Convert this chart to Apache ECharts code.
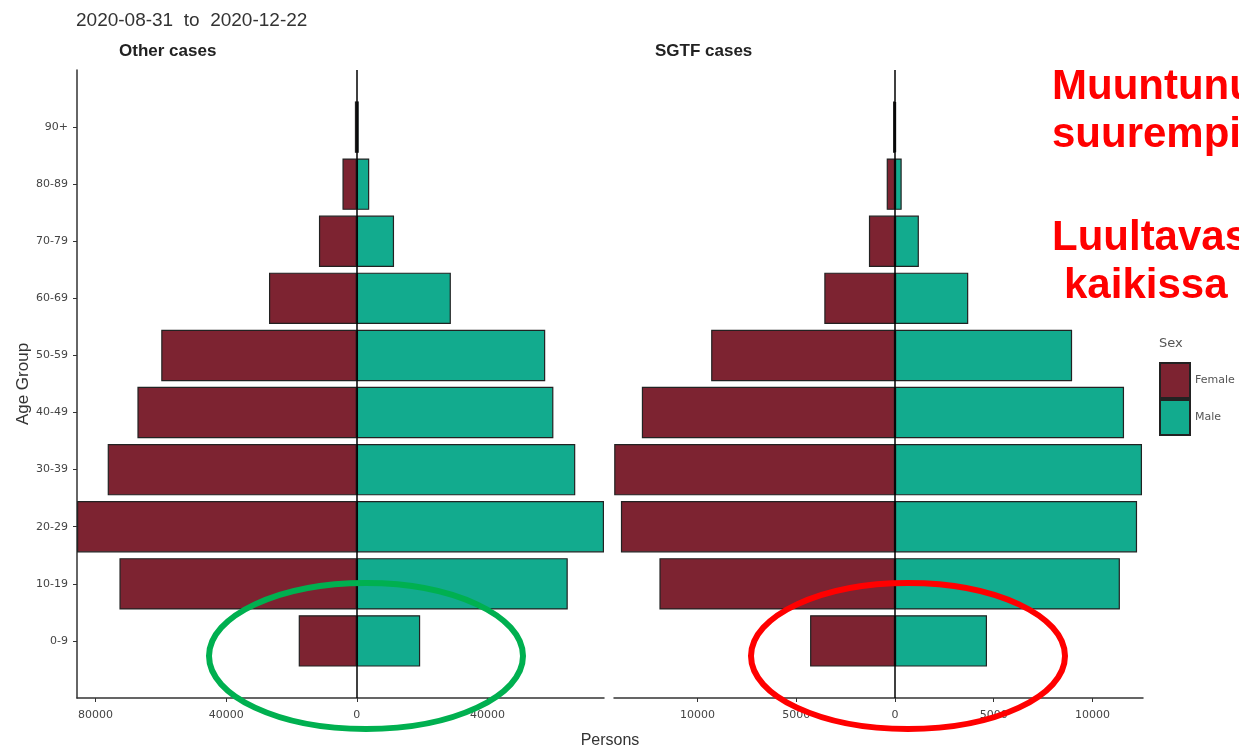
<!DOCTYPE html>
<html>
<head>
<meta charset="utf-8">
<script src="https://cdn.jsdelivr.net/npm/echarts@6/dist/echarts.min.js"></script>
<style>
  html, body { margin: 0; padding: 0; background: #fff; }
  #main { width: 1239px; height: 750px; }
</style>
</head>
<body>
<div id="main"></div>
<script>
var chartDom = document.getElementById('main');
var myChart = echarts.init(chartDom);
var option;

// age groups, bottom to top
var ageGroups = ['0-9', '10-19', '20-29', '30-39', '40-49', '50-59', '60-69', '70-79', '80-89', '90+'];

// persons per group
var otherFemale = [17800, 72700, 85700, 76300, 67200, 59900, 26900, 11600, 4400, 600];
var otherMale = [19400, 64600, 75700, 66900, 60200, 57700, 28800, 11400, 3800, 600];
var sgtfFemale = [4300, 11930, 13880, 14220, 12820, 9310, 3580, 1320, 420, 100];
var sgtfMale = [4660, 11390, 12260, 12510, 11600, 8970, 3710, 1210, 340, 60];

var otherTicks = [-80000, -40000, 0, 40000];
var sgtfTicks = [-10000, -5000, 0, 5000, 10000];

var FEMALE = '#7D2331';
var MALE = '#12AB8E';
var FONT = 'Liberation Sans, Arial, sans-serif';
var TICKFONT = 'DejaVu Sans, sans-serif';

// one empty slot above and below, like ggplot's discrete expansion
var axisCats = [' '].concat(ageGroups, ['  ']);
function pad(arr, sign) {
  return [null].concat(arr.map(function (v) { return sign * v; }), [null]);
}
function innerTick(i) {
  return i > 0 && i < axisCats.length - 1;
}

var barStyle = function (c) {
  return { color: c, borderColor: '#222', borderWidth: 1.2 };
};
var zeroLine = {
  silent: true,
  symbol: ['none', 'none'],
  label: { show: false },
  lineStyle: { color: '#000', width: 1.5, type: 'solid' },
  data: [{ xAxis: 0 }]
};

option = {
  animation: false,
  backgroundColor: '#fff',
  title: [
    {
      text: '2020-08-31  to  2020-12-22', left: 76, top: 11, padding: 0,
      textStyle: { fontFamily: FONT, fontSize: 19, fontWeight: 'normal', color: '#333' }
    },
    {
      text: 'Other cases', left: 119, top: 43, padding: 0,
      textStyle: { fontFamily: FONT, fontSize: 17, fontWeight: 'bold', color: '#222' }
    },
    {
      text: 'SGTF cases', left: 655, top: 43, padding: 0,
      textStyle: { fontFamily: FONT, fontSize: 17, fontWeight: 'bold', color: '#222' }
    },
    {
      text: 'Sex', left: 1159, top: 337, padding: 0,
      textStyle: { fontFamily: TICKFONT, fontSize: 13, fontWeight: 'normal', color: '#555' }
    }
  ],
  legend: {
    orient: 'vertical',
    left: 1159,
    top: 362,
    padding: 0,
    itemGap: 0,
    itemWidth: 30,
    itemHeight: 35,
    icon: 'rect',
    data: ['Female', 'Male'],
    textStyle: { fontFamily: TICKFONT, fontSize: 11, color: '#555' }
  },
  grid: [
    { left: 77, top: 70, width: 527, height: 628 },
    { left: 614, top: 70, width: 529, height: 628 }
  ],
  xAxis: [
    {
      type: 'value', gridIndex: 0, min: -85700, max: 75700,
      splitLine: { show: false },
      axisLine: { show: true, lineStyle: { color: '#333', width: 1.5 } },
      axisTick: { show: true, length: 4, customValues: otherTicks, lineStyle: { color: '#333' } },
      axisLabel: {
        customValues: otherTicks, margin: 12,
        fontFamily: TICKFONT, fontSize: 11, color: '#444',
        formatter: function (v) { return String(Math.abs(v)); }
      }
    },
    {
      type: 'value', gridIndex: 1, min: -14230, max: 12560,
      splitLine: { show: false },
      axisLine: { show: true, lineStyle: { color: '#333', width: 1.5 } },
      axisTick: { show: true, length: 4, customValues: sgtfTicks, lineStyle: { color: '#333' } },
      axisLabel: {
        customValues: sgtfTicks, margin: 12,
        fontFamily: TICKFONT, fontSize: 11, color: '#444',
        formatter: function (v) { return String(Math.abs(v)); }
      }
    }
  ],
  yAxis: [
    {
      type: 'category', gridIndex: 0, data: axisCats, boundaryGap: false,
      name: 'Age Group', nameLocation: 'middle', nameGap: 44,
      nameTextStyle: { fontFamily: FONT, fontSize: 17, color: '#333' },
      axisLine: { show: true, onZero: false, lineStyle: { color: '#333', width: 1.5 } },
      axisTick: { show: true, length: 4, interval: innerTick, lineStyle: { color: '#333' } },
      axisLabel: { interval: 0, margin: 9, fontFamily: TICKFONT, fontSize: 11, color: '#444' },
      splitLine: { show: false }
    },
    {
      type: 'category', gridIndex: 1, data: axisCats, boundaryGap: false,
      axisLine: { show: false, onZero: false },
      axisTick: { show: false },
      axisLabel: { show: false },
      splitLine: { show: false }
    }
  ],
  series: [
    {
      name: 'Female', type: 'bar', xAxisIndex: 0, yAxisIndex: 0, stack: 'other',
      barWidth: '90%', data: pad(otherFemale, -1), itemStyle: barStyle(FEMALE)
    },
    {
      name: 'Male', type: 'bar', xAxisIndex: 0, yAxisIndex: 0, stack: 'other',
      barWidth: '90%', data: pad(otherMale, 1), itemStyle: barStyle(MALE),
      markLine: zeroLine
    },
    {
      name: 'Female', type: 'bar', xAxisIndex: 1, yAxisIndex: 1, stack: 'sgtf',
      barWidth: '90%', data: pad(sgtfFemale, -1), itemStyle: barStyle(FEMALE)
    },
    {
      name: 'Male', type: 'bar', xAxisIndex: 1, yAxisIndex: 1, stack: 'sgtf',
      barWidth: '90%', data: pad(sgtfMale, 1), itemStyle: barStyle(MALE),
      markLine: zeroLine
    }
  ],
  graphic: [
    {
      type: 'text', x: 610, y: 741, z: 10,
      style: { text: 'Persons', fontFamily: FONT, fontSize: 16, fill: '#333', align: 'center', verticalAlign: 'middle' }
    },
    // slide annotations on top of the chart
    {
      type: 'ellipse', z: 20,
      shape: { cx: 366, cy: 656, rx: 157, ry: 73 },
      style: { fill: 'none', stroke: '#00B050', lineWidth: 6 }
    },
    {
      type: 'ellipse', z: 20,
      shape: { cx: 908, cy: 656, rx: 157, ry: 73 },
      style: { fill: 'none', stroke: '#FF0000', lineWidth: 6 }
    },
    {
      type: 'text', x: 1052, y: 87, z: 20,
      style: { text: 'Muuntunu', fontFamily: FONT, fontSize: 42, fontWeight: 'bold', fill: '#FF0000', verticalAlign: 'middle' }
    },
    {
      type: 'text', x: 1052, y: 135, z: 20,
      style: { text: 'suurempi', fontFamily: FONT, fontSize: 42, fontWeight: 'bold', fill: '#FF0000', verticalAlign: 'middle' }
    },
    {
      type: 'text', x: 1052, y: 238, z: 20,
      style: { text: 'Luultavas', fontFamily: FONT, fontSize: 42, fontWeight: 'bold', fill: '#FF0000', verticalAlign: 'middle' }
    },
    {
      type: 'text', x: 1064, y: 286, z: 20,
      style: { text: 'kaikissa', fontFamily: FONT, fontSize: 42, fontWeight: 'bold', fill: '#FF0000', verticalAlign: 'middle' }
    }
  ]
};

option && myChart.setOption(option);
</script>
</body>
</html>
